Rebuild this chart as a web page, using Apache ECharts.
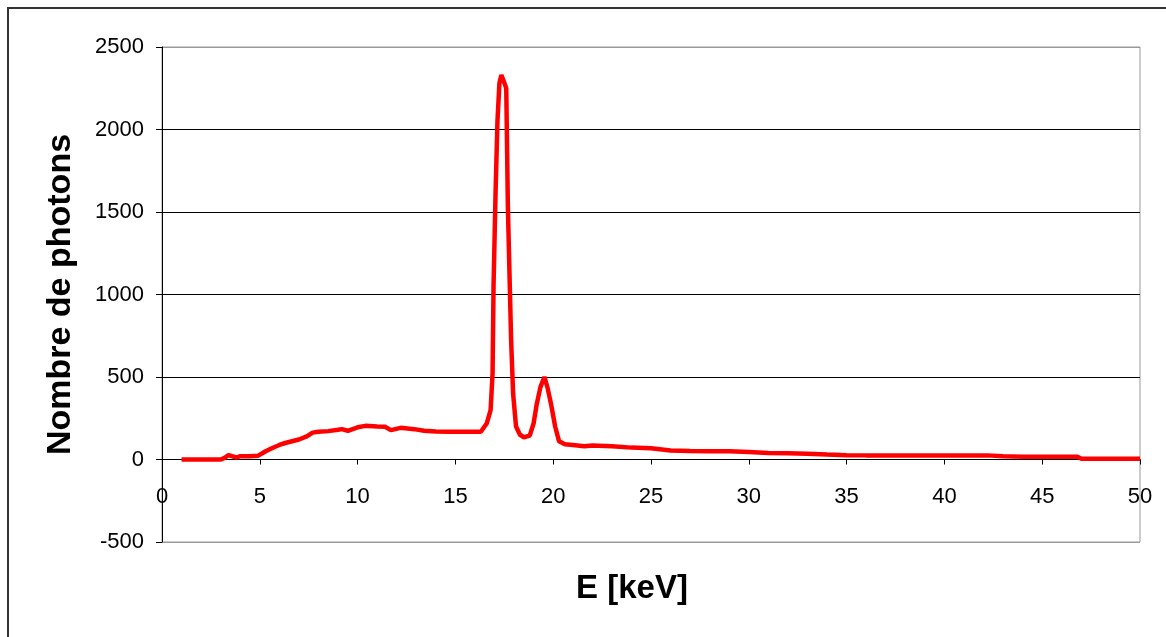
<!DOCTYPE html>
<html>
<head>
<meta charset="utf-8">
<script src="https://cdn.jsdelivr.net/npm/echarts@6/dist/echarts.min.js"></script>
<style>
  html, body { margin: 0; padding: 0; background: #fff; }
  #chart { width: 1166px; height: 637px; }
</style>
</head>
<body>
<div id="chart"></div>
<script>
// spectre : energie (keV) et nombre de photons
const energy = [
  1, 2, 3, 3.2, 3.4, 3.8, 4, 4.5, 4.9, 5.0, 5.3, 5.7, 6.0, 6.3, 6.7, 7.0, 7.4, 7.7,
  8.0, 8.5, 9.0, 9.2, 9.5, 10.0, 10.4, 11.0, 11.4, 11.7, 12.2, 12.9, 13.4, 14.0,
  14.7, 15.5, 16.3, 16.6, 16.8, 16.9, 16.95, 17.05, 17.15, 17.25, 17.35, 17.45,
  17.6, 17.68, 17.76, 17.85, 17.95, 18.1, 18.3, 18.5, 18.8, 19.0, 19.15, 19.35,
  19.55, 19.7, 19.9, 20.1, 20.3, 20.6, 21, 21.6, 22, 23, 24, 25, 26, 27, 28, 29,
  30, 31, 32, 33, 34, 35, 36, 38, 40, 42.2, 42.3, 43, 44, 46.8, 47, 48, 50
]
const photons = [
  0, 0, 0, 10, 26, 12, 20, 20, 22, 30, 50, 73, 88, 100, 112, 121, 140, 163,
  168, 172, 180, 184, 174, 195, 204, 200, 198, 178, 192, 184, 174, 170,
  168, 168, 168, 218, 299, 520, 1050, 1600, 2050, 2280, 2330, 2300,
  2250, 1550, 1150, 720, 400, 200, 150, 135, 145, 220, 330, 440,
  500, 440, 330, 200, 110, 92, 88, 80, 85, 80, 72, 68, 55, 52, 50, 50,
  45, 40, 38, 35, 30, 26, 25, 25, 25, 25, 17, 20, 17, 17, 5, 5, 5
]
const yTicks = [-500, 0, 500, 1000, 1500, 2000, 2500]

const points = energy.map((e, i) => [e, photons[i]])

const chart = echarts.init(document.getElementById('chart'))
chart.setOption({
  animation: false,
  textStyle: { fontFamily: 'Liberation Sans, Arial, sans-serif' },
  graphic: [{
    type: 'rect',
    shape: { x: 8, y: 8, width: 1200, height: 700 },
    style: { fill: 'none', stroke: '#333', lineWidth: 2 },
    z: -10,
  }],
  grid: {
    left: 162,
    right: 26,
    top: 47,
    bottom: 95,
    show: true,
    borderColor: '#999',
    borderWidth: 1,
    containLabel: false,
    outerBoundsMode: 'none',
  },
  xAxis: {
    type: 'value',
    min: 0,
    max: 50,
    interval: 5,
    name: 'E [keV]',
    nameLocation: 'middle',
    nameGap: 30,
    nameTextStyle: { fontSize: 33, fontWeight: 'bold', color: '#000', padding: [0, 38, 0, 0] },
    axisLine: { onZero: true, lineStyle: { color: '#000', width: 1 } },
    axisTick: { show: true, length: 5, lineStyle: { color: '#000' } },
    axisLabel: { margin: -56, fontSize: 22, color: '#000' },
    splitLine: { show: false },
  },
  yAxis: {
    type: 'value',
    min: yTicks[0],
    max: yTicks[yTicks.length - 1],
    interval: 500,
    name: 'Nombre de photons',
    nameLocation: 'middle',
    nameGap: 84,
    nameTextStyle: { fontSize: 34, fontWeight: 'bold', color: '#000' },
    axisLine: { show: true, lineStyle: { color: '#000', width: 1 } },
    axisTick: { show: true, length: 6, lineStyle: { color: '#000' } },
    axisLabel: { margin: 18, fontSize: 22, color: '#000', formatter: (v) => String(v) },
    splitLine: {
      show: true,
      lineStyle: { color: ['#999', '#000', '#000', '#000', '#000', '#000', '#999'], width: 1 },
    },
  },
  series: [{
    type: 'line',
    data: points,
    showSymbol: false,
    lineStyle: { color: '#ff0000', width: 4.5 },
    z: 5,
  }],
})
</script>
</body>
</html>
